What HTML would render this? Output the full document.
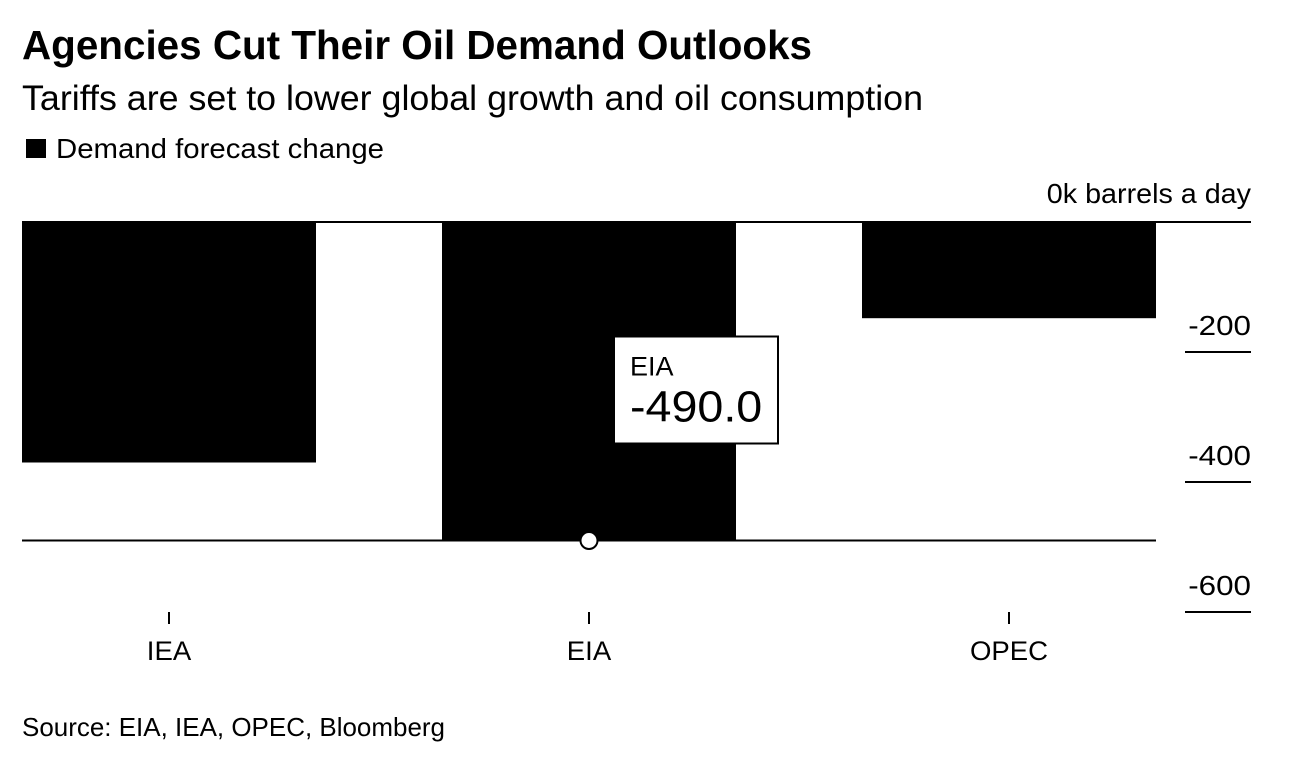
<!DOCTYPE html>
<html lang="en">
<head>
<meta charset="utf-8">
<title>Agencies Cut Their Oil Demand Outlooks</title>
<style>
html,body{margin:0;padding:0;background:#fff;}
body{width:1300px;height:762px;overflow:hidden;}
svg{display:block;}
text{font-family:"Liberation Sans",Arial,sans-serif;fill:#000;}
</style>
</head>
<body>
<svg id="chart" width="1300" height="762" viewBox="0 0 1300 762" xmlns="http://www.w3.org/2000/svg">
  <rect x="0" y="0" width="1300" height="762" fill="#fff"/>
  <text x="22" y="59" font-size="41" font-weight="700" textLength="790" lengthAdjust="spacingAndGlyphs">Agencies Cut Their Oil Demand Outlooks</text>
  <text x="22" y="110" font-size="35" textLength="901" lengthAdjust="spacingAndGlyphs">Tariffs are set to lower global growth and oil consumption</text>
  <rect x="26" y="139" width="20" height="19" fill="#000"/>
  <text x="56" y="158" font-size="28" textLength="328" lengthAdjust="spacingAndGlyphs">Demand forecast change</text>
  <g id="bars"></g>
  <g id="y-axis"></g>
  <g id="x-axis"></g>
  <g id="hover"></g>
  <text x="22" y="736" font-size="26" textLength="423" lengthAdjust="spacingAndGlyphs">Source: EIA, IEA, OPEC, Bloomberg</text>
</svg>
<script>
const categories = ['IEA', 'EIA', 'OPEC'];
const demandChange = [-370, -490, -148];
const yTicks = [0, -200, -400, -600];
const yTickLabels = ['0k barrels a day', '-200', '-400', '-600'];
const hoveredIndex = 1;

const NS = 'http://www.w3.org/2000/svg';
const plot = { left: 22, step: 420, barWidth: 294, top: 222, pxPerUnit: 0.65 };
const axisRight = 1251;
const tickLeft = 1185;

function yScale(v) { return plot.top - v * plot.pxPerUnit; }
function xCenter(i) { return plot.left + plot.barWidth / 2 + i * plot.step; }

function make(tag, parent, props, content) {
  const el = document.createElementNS(NS, tag);
  for (const k in props) el.setAttribute(k, props[k]);
  if (content !== undefined) el.textContent = content;
  parent.appendChild(el);
  return el;
}

function widen(el, factor) {
  const w = el.getComputedTextLength();
  el.setAttribute('textLength', (w * factor).toFixed(2));
  el.setAttribute('lengthAdjust', 'spacingAndGlyphs');
}

const barsG = document.getElementById('bars');
const yG = document.getElementById('y-axis');
const xG = document.getElementById('x-axis');
const hoverG = document.getElementById('hover');

categories.forEach(function (cat, i) {
  const y0 = yScale(0);
  const y1 = yScale(demandChange[i]);
  const bar = make('rect', barsG, {
    x: xCenter(i) - plot.barWidth / 2,
    y: Math.min(y0, y1) - 1,
    width: plot.barWidth,
    height: Math.abs(y1 - y0) + 1,
    fill: '#000'
  });
  
  

  const tick = make('line', xG, {
    x1: xCenter(i), x2: xCenter(i), y1: 612, y2: 624,
    stroke: '#000', 'stroke-width': 2
  });
  
  

  const label = make('text', xG, {
    x: xCenter(i), y: 660, 'font-size': 27, 'text-anchor': 'middle'
  }, cat);
  widen(label, 1.02);
  
  
});

yTicks.forEach(function (t, i) {
  const isZero = t === 0;
  const y = yScale(t);
  const line = make('line', yG, {
    x1: isZero ? plot.left : tickLeft, x2: axisRight, y1: y, y2: y,
    stroke: '#000', 'stroke-width': 2
  });
  
  

  const label = make('text', yG, {
    x: axisRight, y: isZero ? y - 19 : y - 17, 'font-size': 28, 'text-anchor': 'end'
  }, yTickLabels[i]);
  widen(label, isZero ? 1.025 : 1.12);
  
  
});

const hv = demandChange[hoveredIndex];
const hx = xCenter(hoveredIndex);
const hy = yScale(hv);

const crosshair = make('line', hoverG, {
  x1: plot.left, x2: plot.left + 2 * plot.step + plot.barWidth, y1: hy, y2: hy,
  stroke: '#000', 'stroke-width': 2
});



const marker = make('circle', hoverG, {
  cx: hx, cy: hy, r: 8.5, fill: '#fff', stroke: '#000', 'stroke-width': 2
});



const tipBox = make('rect', hoverG, {
  x: hx + 25, y: hy - 204, width: 164, height: 107,
  fill: '#fff', stroke: '#000', 'stroke-width': 2
});



const tipName = make('text', hoverG, {
  x: hx + 41, y: hy - 165, 'font-size': 27
}, categories[hoveredIndex]);



const tipValue = make('text', hoverG, {
  x: hx + 41, y: hy - 119, 'font-size': 44
}, hv.toFixed(1));
widen(tipValue, 1.06);


</script>
</body>
</html>
